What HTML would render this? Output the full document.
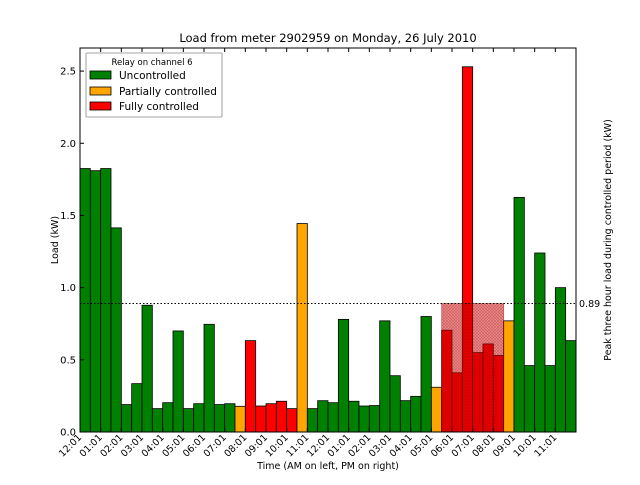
<!DOCTYPE html>
<html><head><meta charset="utf-8"><style>
body{margin:0;background:#fff}
svg{font-family:"DejaVu Sans","Liberation Sans",sans-serif}
</style></head><body>
<svg id="chart" width="640" height="480" viewBox="0 0 640 480" xmlns="http://www.w3.org/2000/svg">
<defs>
<pattern id="hatch" width="3" height="3" patternUnits="userSpaceOnUse">
<rect width="3" height="3" fill="rgba(220,0,0,0.45)"/>
<path d="M0,0 L3,3 M3,0 L0,3" stroke="rgba(120,0,0,0.35)" stroke-width="0.6"/>
</pattern>
</defs>
<text x="328" y="42" font-size="11.5" text-anchor="middle">Load from meter 2902959 on Monday, 26 July 2010</text>
<g id="bars"></g>
<g id="overlay"></g>
<g id="axes"></g>
<text x="0" y="0" font-size="9.5" text-anchor="middle" transform="translate(58 240) rotate(-90)">Load (kW)</text>
<text x="328" y="469" font-size="9.5" text-anchor="middle">Time (AM on left, PM on right)</text>
<text x="0" y="0" font-size="9.5" text-anchor="middle" transform="translate(611 240) rotate(-90)">Peak three hour load during controlled period (kW)</text>
<g>
<rect x="86" y="53" width="136" height="64" fill="#fff" stroke="#888" stroke-width="0.8" rx="1"/>
<text x="152" y="65" font-size="8.5" text-anchor="middle">Relay on channel 6</text>
<rect x="90" y="71" width="21" height="8" fill="#008000" stroke="#000" stroke-width="0.8"/>
<text x="119" y="79" font-size="10.5">Uncontrolled</text>
<rect x="90" y="87" width="21" height="8" fill="#FFA500" stroke="#000" stroke-width="0.8"/>
<text x="119" y="95" font-size="10.5">Partially controlled</text>
<rect x="90" y="102" width="21" height="8" fill="#FF0000" stroke="#000" stroke-width="0.8"/>
<text x="119" y="110" font-size="10.5">Fully controlled</text>
</g>
</svg>
<script>
const loads=[1.825,1.81,1.825,1.414,0.19,0.335,0.878,0.162,0.203,0.70,0.162,0.196,0.746,0.19,0.196,0.178,0.633,0.18,0.196,0.213,0.162,1.444,0.162,0.217,0.203,0.78,0.213,0.18,0.183,0.77,0.39,0.217,0.247,0.80,0.31,0.705,0.41,2.53,0.55,0.61,0.53,0.77,1.625,0.46,1.24,0.46,1.0,0.633];
const control=["U","U","U","U","U","U","U","U","U","U","U","U","U","U","U","P","F","F","F","F","F","P","U","U","U","U","U","U","U","U","U","U","U","U","P","F","F","F","F","F","F","P","U","U","U","U","U","U"];
const peakValue=[0.89];
const peakStart=[35];
const peakEnd=[40];
const yTicks=[0,0.5,1.0,1.5,2.0,2.5];
const xTickLabels=["12:01","01:01","02:01","03:01","04:01","05:01","06:01","07:01","08:01","09:01","10:01","11:01","12:01","01:01","02:01","03:01","04:01","05:01","06:01","07:01","08:01","09:01","10:01","11:01"];
const L=80,R=576,T=48,B=432,YMAX=2.66;
const ns="http://www.w3.org/2000/svg";
const xs=i=>L+(R-L)*i/loads.length;
const ys=v=>B-(B-T)*v/YMAX;
const colors={U:"#008000",P:"#FFA500",F:"#FF0000"};
function mk(tag,attrs,parent){const e=document.createElementNS(ns,tag);for(const k in attrs)e.setAttribute(k,attrs[k]);parent.appendChild(e);return e;}
const gb=document.getElementById('bars');
loads.forEach((v,i)=>{
 const r=mk('rect',{x:xs(i),y:ys(v),width:xs(i+1)-xs(i),height:B-ys(v),fill:colors[control[i]],stroke:'#000','stroke-width':0.8},gb);
 
 
});
const go=document.getElementById('overlay');
const pk=mk('rect',{x:xs(peakStart[0]),y:ys(peakValue[0]),width:xs(peakEnd[0]+1)-xs(peakStart[0]),height:B-ys(peakValue[0]),fill:'url(#hatch)',stroke:'rgba(150,0,0,0.5)','stroke-width':0.8},go);


const pl=mk('line',{x1:L,x2:R,y1:ys(peakValue[0]),y2:ys(peakValue[0]),stroke:'#000','stroke-dasharray':'1.5,2','stroke-width':1},go);


const ga=document.getElementById('axes');
const fr=mk('rect',{x:L,y:T,width:R-L,height:B-T,fill:'none',stroke:'#000','stroke-width':1},ga);


yTicks.forEach(t=>{
 const y=ys(t);
 mk('line',{x1:L,x2:L+4,y1:y,y2:y,stroke:'#000'},ga);
 const tx=mk('text',{x:L-4,y:y+3.5,'font-size':10,'text-anchor':'end'},ga);
 tx.textContent=t.toFixed(1);
 
 
});
xTickLabels.forEach((lab,j)=>{
 const x=xs(j*2);
 mk('line',{x1:x,x2:x,y1:B,y2:B-4,stroke:'#000'},ga);
 mk('line',{x1:x,x2:x,y1:T,y2:T+4,stroke:'#000'},ga);
 const tx=mk('text',{x:x+2,y:B+6,'font-size':9.5,'text-anchor':'end',transform:`rotate(-45 ${x+2} ${B+6})`},ga);
 tx.textContent=lab;
 
 
});
const pv=mk('text',{x:R+3,y:ys(peakValue[0])+3.5,'font-size':9.5},ga);
pv.textContent=peakValue[0].toFixed(2);


</script>
</body></html>
